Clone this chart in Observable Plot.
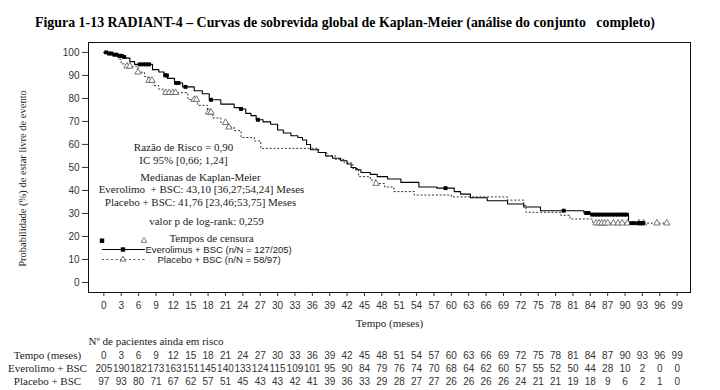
<!DOCTYPE html>
<html><head><meta charset="utf-8">
<script src="https://cdn.jsdelivr.net/npm/d3@7"></script>
<script src="https://cdn.jsdelivr.net/npm/@observablehq/plot@0.6"></script>
<style>
body{margin:0;background:#fff;width:720px;height:390px;overflow:hidden}
svg{display:block}
</style></head><body>
<svg id="title" width="720" height="34"><text x="35" y="27" textLength="620" lengthAdjust="spacingAndGlyphs" font-family="Liberation Serif, Times New Roman, serif" font-weight="bold" font-size="14.5" fill="#000" style="white-space:pre">Figura 1-13 RADIANT-4 – Curvas de sobrevida global de Kaplan-Meier (análise do conjunto   completo)</text></svg>
<div id="chart"></div>
<script>
// Kaplan-Meier step points (months, % event-free)
const evTime = [0,0.8,1.6,2.4,3.2,3.8,4.5,5.3,8.4,9.5,10.4,11,12.2,13.6,15.6,17,18.2,20.2,22.5,23.4,24.5,25.4,26.3,27.5,28.8,30,31,32.3,33.5,34.3,35,35.7,37,38.3,39.5,40.9,42,42.7,43.5,44.4,46,47.2,49,51.3,54.4,57.5,60.5,61.6,63.3,66.2,69.7,72.5,75.4,82.9,84,90.6,93.5];
const evSurv = [100,99.5,99,98.5,98,97.5,96,94.8,92.5,91.5,90,88.7,86.7,85,83.3,82,79.4,77.5,76,75.4,73.5,72.5,70.7,69.8,68.8,66.3,65,63.8,63,61.9,60,57.7,56.5,55,54,52.9,51.5,50,49,47.8,47,46,45,43.5,41.5,41,39.5,38.4,36.8,35.5,34.1,32.8,31.2,30.2,29.5,25.8,25.8];
const plTime = [0,1.5,2.5,3,3.8,5.9,7,7.6,8.7,9.5,10.4,14.5,16.2,17.9,18.8,20.2,21.4,22.5,23.7,26,27.1,37.1,38.5,40,41.5,43,44,46,47,48.5,50.1,53.6,60,69.7,72.5,72.9,78.9,80.5,84.4,97.2];
const plSurv = [100,99,97,95,94,91.4,89.5,87.8,85.6,84,82.5,79.5,77,74,71.5,69.5,67.5,66,63,61.5,58.3,56.5,55,53.5,52,49.5,46,44.5,43,41.5,39.5,38,37.2,35.8,33.5,30.5,29.2,27.6,25.8,25.8];
// censoring times
const evCensor = [0.4,0.9,1.3,1.8,2.2,2.7,3.1,3.5,6.2,6.8,7.3,7.8,10.6,10.9,12.5,12.9,14.1,18.5,23.7,26.6,59,79.4,83.3,83.7,84.3,84.8,85.3,85.8,86.3,86.8,87.3,87.8,88.3,88.8,89.3,89.8,90.3,91.1,91.6,92.3,92.7,93.1];
const plCensor = [4,4.5,5.9,7.8,8.3,10.7,11.3,11.9,12.4,15.6,16,18.1,18.5,21,21.6,47,85,85.5,86,86.5,87,88,88.8,89.5,90.4,92.4,93.2,95.5,97.2];
// axis ticks
const xTicks = d3.range(0, 100, 3);
const yTicks = d3.range(0, 101, 10);
// numbers at risk
const riskTimes = xTicks;
const riskEv = [205,190,182,173,163,151,145,140,133,124,115,109,101,95,90,84,79,76,74,70,68,64,62,60,57,55,52,50,44,28,10,2,0,0];
const riskPl = [97,93,80,71,67,62,57,51,45,43,43,42,41,39,36,33,29,28,27,27,26,26,26,26,24,21,21,19,18,9,6,2,1,0];

const serif = "Liberation Serif, Times New Roman, serif";
const sans = "Liberation Sans, Arial, sans-serif";

const stepAt = (T, S, t) => { let i = 0; while (i + 1 < T.length && T[i + 1] <= t) i++; return S[i]; };
const evData = evTime.map((t, i) => ({t, s: evSurv[i]}));
const plData = plTime.map((t, i) => ({t, s: plSurv[i]}));
const evCens = evCensor.map(t => ({t, s: stepAt(evTime, evSurv, t)}));
const plCens = plCensor.map(t => ({t, s: stepAt(plTime, plSurv, t)}));

const annotations = [
  {text: "Razão de Risco = 0,90", dx: 95, dy: 105},
  {text: "IC 95% [0,66; 1,24]", dx: 95, dy: 118},
  {text: "Medianas de Kaplan-Meier", dx: 112, dy: 135},
  {text: "Everolimo  + BSC: 43,10 [36,27;54,24] Meses", dx: 113, dy: 147},
  {text: "Placebo + BSC: 41,76 [23,46;53,75] Meses", dx: 112, dy: 160},
  {text: "valor p de log-rank: 0,259", dx: 118, dy: 179},
  {text: "Tempos de censura", dx: 123, dy: 195.5}
];

function legendMark() {
  const L = 88, T = 8;
  const g = d3.create("svg:g");
  const sq = (x, y) => g.append("rect").attr("x", L + x - 2.2).attr("y", T + y - 2.2).attr("width", 4.4).attr("height", 4.4).attr("fill", "#000");
  const tri = (x, y) => g.append("path").attr("transform", `translate(${L + x},${T + y})`).attr("d", d3.symbol(d3.symbolTriangle, 14)()).attr("fill", "white").attr("stroke", "#555").attr("stroke-width", 0.8);
  sq(14, 198.7);
  tri(56, 198.7);
  g.append("line").attr("x1", L + 14).attr("x2", L + 57).attr("y1", T + 207.5).attr("y2", T + 207.5).attr("stroke", "#000").attr("stroke-width", 1.2);
  sq(35, 207.5);
  g.append("line").attr("x1", L + 14).attr("x2", L + 57).attr("y1", T + 217.5).attr("y2", T + 217.5).attr("stroke", "#444").attr("stroke-width", 0.9).attr("stroke-dasharray", "2,2.5");
  tri(35, 217.5);
  return g.node();
}

const lbl = (text, o) => Plot.text([text], {textAnchor: "middle", lineAnchor: "middle", fontFamily: serif, fontSize: 11, fill: "#222", ...o});

const chart = Plot.plot({
  width: 720, height: 356,
  marginTop: 8, marginBottom: 98, marginLeft: 88, marginRight: 30,
  style: {fontFamily: sans, fontSize: "10px", color: "#333", background: "white"},
  x: {domain: [-2.65, 101.3], ticks: xTicks, tickSize: 4, tickPadding: 5, tickFormat: d => String(d), label: null},
  y: {domain: [-4.35, 104.3], ticks: yTicks, tickSize: 6, tickPadding: 3, tickFormat: d => String(d), label: null},
  marks: [
    Plot.frame({stroke: "#111"}),
    Plot.line(plData, {x: "t", y: "s", curve: "step-after", stroke: "#333", strokeWidth: 1, strokeDasharray: "1.2,2.6"}),
    Plot.line(evData, {x: "t", y: "s", curve: "step-after", stroke: "#000", strokeWidth: 1.1}),
    Plot.dot(plCens, {x: "t", y: "s", symbol: "triangle", r: 2.4, stroke: "#555", strokeWidth: 0.8, fill: "white"}),
    Plot.dot(evCens, {x: "t", y: "s", symbol: "square", r: 2.2, fill: "#000", stroke: null}),
    ...annotations.map(a => lbl(a.text, {frameAnchor: "top-left", dx: a.dx, dy: a.dy})),
    lbl("Everolimus + BSC (n/N = 127/205)", {frameAnchor: "top-left", dx: 57, dy: 207.5, fontFamily: sans, fontSize: 9.5, textAnchor: "start"}),
    lbl("Placebo + BSC (n/N = 58/97)", {frameAnchor: "top-left", dx: 69, dy: 217.5, fontFamily: sans, fontSize: 9.5, textAnchor: "start"}),
    legendMark,
    lbl("Probabilidade (%) de estar livre de evento", {frameAnchor: "left", rotate: -90, dx: -66, dy: 11, fontSize: 10.5}),
    lbl("Tempo (meses)", {frameAnchor: "bottom", dy: 31}),
    lbl("Nº de pacientes ainda em risco", {frameAnchor: "bottom-left", dy: 49, textAnchor: "start"}),
    lbl("Tempo (meses)", {frameAnchor: "bottom-left", dx: -41, dy: 63}),
    lbl("Everolimo + BSC", {frameAnchor: "bottom-left", dx: -41, dy: 76}),
    lbl("Placebo + BSC", {frameAnchor: "bottom-left", dx: -41, dy: 89}),
    Plot.text(riskTimes, {x: d => d, frameAnchor: "bottom", lineAnchor: "middle", dy: 63, text: d => String(d), fill: "#333"}),
    Plot.text(riskTimes, {x: d => d, frameAnchor: "bottom", lineAnchor: "middle", dy: 76, text: (d, i) => String(riskEv[i]), fill: "#333"}),
    Plot.text(riskTimes, {x: d => d, frameAnchor: "bottom", lineAnchor: "middle", dy: 89, text: (d, i) => String(riskPl[i]), fill: "#333"})
  ]
});
document.getElementById("chart").appendChild(chart);
</script>
</body></html>
